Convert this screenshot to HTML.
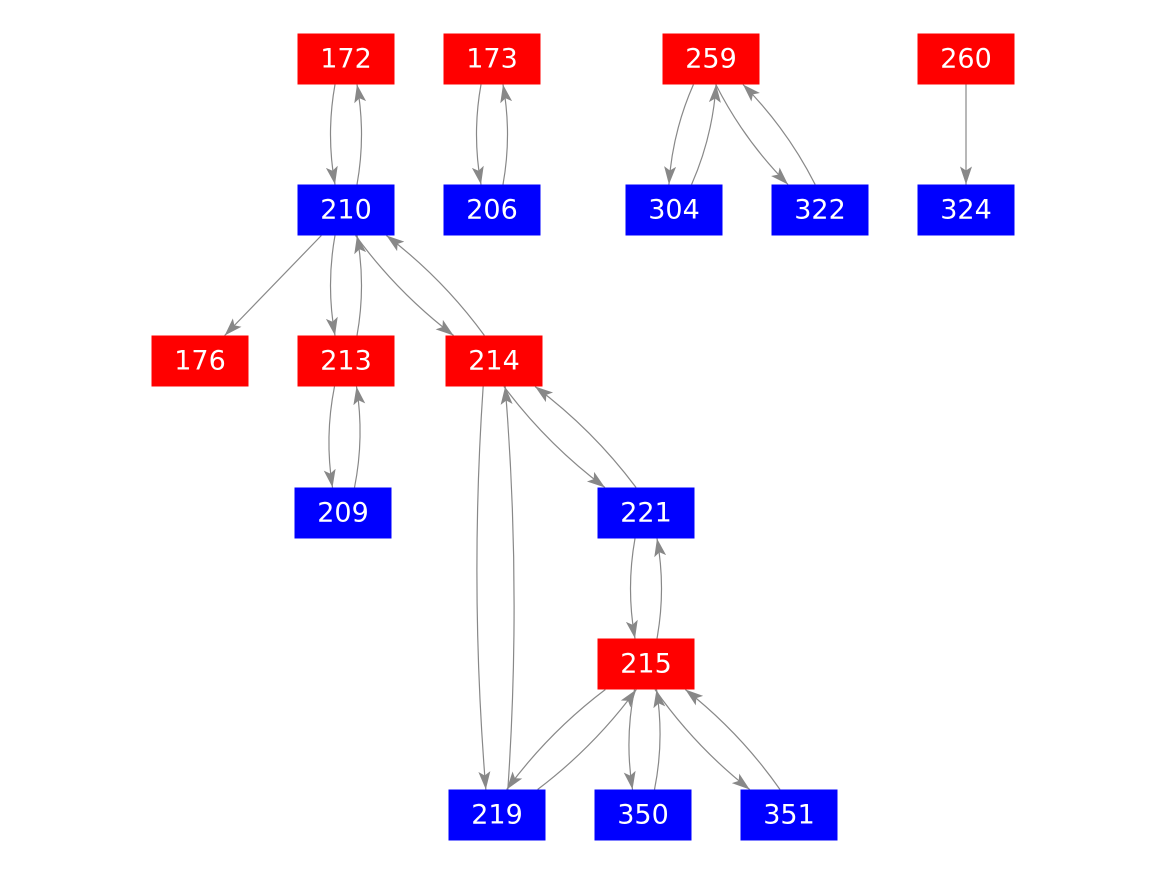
<!DOCTYPE html>
<html><head><meta charset="utf-8"><style>
html,body{margin:0;padding:0;background:#fff;}
svg{display:block}
text{font-family:"DejaVu Sans","Liberation Sans",sans-serif;font-size:27px;fill:#fff;text-anchor:middle;dominant-baseline:central}
</style></head><body>
<svg id="s" width="1167" height="875" xmlns="http://www.w3.org/2000/svg">
<defs><marker id="a" markerUnits="userSpaceOnUse" markerWidth="20" markerHeight="14" refX="18" refY="7" orient="auto"><path d="M0,1 L18,7 L0,13 L4,7 z" fill="#888"/></marker></defs>
<g id="e"></g><g id="n"></g>
</svg>
<script>
var N={172:[346,59,'r'],173:[492,59,'r'],259:[711,59,'r'],260:[966,59,'r'],
210:[346,210,'b'],206:[492,210,'b'],304:[674,210,'b'],322:[820,210,'b'],324:[966,210,'b'],
176:[200,361,'r'],213:[346,361,'r'],214:[494,361,'r'],
209:[343,513,'b'],221:[646,513,'b'],215:[646,664,'r'],
219:[497,815,'b'],350:[643,815,'b'],351:[789,815,'b']};
var HW=48.5,HH=25.5;
var E=[[172,210,1],[173,206,1],[259,304,1],[259,322,1],[260,324,0],[210,176,0],[210,213,1],[210,214,1],[213,209,1],[214,219,1],[214,221,1],[221,215,1],[215,219,1],[215,350,1],[215,351,1]];
var ns="http://www.w3.org/2000/svg",eg=document.getElementById('e'),ng=document.getElementById('n');
function clip(c,p,d){
  var tx=d[0]?((d[0]>0?c[0]+HW-p[0]:c[0]-HW-p[0])/d[0]):1e9;
  var ty=d[1]?((d[1]>0?c[1]+HH-p[1]:c[1]-HH-p[1])/d[1]):1e9;
  var t=Math.min(tx,ty);return [p[0]+d[0]*t,p[1]+d[1]*t];}
function edge(a,b,off){
  var A=N[a],B=N[b],dx=B[0]-A[0],dy=B[1]-A[1],L=Math.hypot(dx,dy),d=[dx/L,dy/L],n=[-d[1],d[0]];
  var s=off?11:0;
  var pa=[A[0]+n[0]*s,A[1]+n[1]*s],pb=[B[0]+n[0]*s,B[1]+n[1]*s];
  var p0=clip(A,pa,d),p1=clip(B,pb,[-d[0],-d[1]]);
  var k=off?6+L*0.02:0;
  var m=[(p0[0]+p1[0])/2+n[0]*k,(p0[1]+p1[1])/2+n[1]*k];
  var p=document.createElementNS(ns,'path');
  p.setAttribute('d','M'+p0+' Q'+m+' '+p1);
  p.setAttribute('fill','none');p.setAttribute('stroke','#888');p.setAttribute('stroke-width','1.2');
  p.setAttribute('marker-end','url(#a)');eg.appendChild(p);}
E.forEach(function(e){edge(e[0],e[1],e[2]);if(e[2])edge(e[1],e[0],1);});
for(var k in N){var c=N[k];
 var r=document.createElementNS(ns,'rect');r.setAttribute('x',c[0]-HW);r.setAttribute('y',c[1]-HH);
 r.setAttribute('width',HW*2);r.setAttribute('height',HH*2);r.setAttribute('fill',c[2]=='r'?'#ff0000':'#0000ff');ng.appendChild(r);
 var t=document.createElementNS(ns,'text');t.setAttribute('x',c[0]);t.setAttribute('y',c[1]);t.textContent=k;ng.appendChild(t);}
</script>
</body></html>
